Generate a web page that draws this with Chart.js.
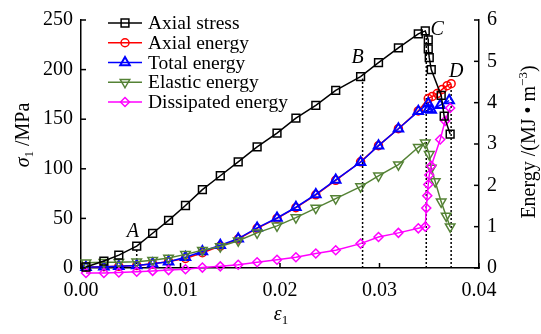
<!DOCTYPE html>
<html><head><meta charset="utf-8">
<script src="https://cdn.jsdelivr.net/npm/chart.js@4/dist/chart.umd.min.js"></script>
<style>html,body{margin:0;padding:0;background:#fff}#wrap{width:541px;height:334px}</style>
</head><body><div id="wrap"><canvas id="c" width="541" height="334"></canvas></div>
<script>
// ---- data ----
const seriesNames = ['Axial stress','Axial energy','Total energy','Elastic energy','Dissipated energy'];
const strainPre = [0.0005,0.0023,0.0038,0.0056,0.0072,0.0088,0.0105,0.0122,0.0140,0.0158,0.0177,0.0197,0.0216,0.0236,0.0256,0.0281,0.0299,0.0319,0.0339];
const stressPre = [1,7,13,22,35,48,63,79,93,107,122,136,151,164,179,193,207,222,236];
const strainStressPost = [0.0346,0.0349,0.0349,0.0350,0.0352,0.0362,0.0365,0.0371];
const stressPost = [239,230,221,212,200,174,153,135];
const axialEnergyPre = [0.02,0.03,0.04,0.06,0.10,0.16,0.23,0.37,0.53,0.70,0.96,1.20,1.46,1.77,2.12,2.57,2.96,3.37,3.80];
const strainAxialPost = [0.0349,0.0353,0.0358,0.0363,0.0368,0.0372];
const axialEnergyPost = [4.10,4.15,4.22,4.32,4.41,4.46];
const totalEnergyPre = [0.02,0.03,0.04,0.06,0.10,0.15,0.26,0.40,0.55,0.71,0.97,1.21,1.47,1.78,2.13,2.56,2.96,3.37,3.79];
const strainTotalPost = [0.0349,0.0349,0.0352,0.0361,0.0370];
const totalEnergyPost = [3.98,3.84,3.82,3.94,4.05];
const elasticEnergyPre = [0.13,0.14,0.14,0.15,0.19,0.24,0.33,0.43,0.52,0.66,0.85,1.02,1.22,1.45,1.68,1.97,2.23,2.50,2.92];
const strainElasticPost = [0.0346,0.0350,0.0352,0.0356,0.0362,0.0367,0.0371];
const elasticEnergyPost = [3.03,2.75,2.42,2.09,1.60,1.26,1.00];
const dissipatedEnergyPre = [-0.12,-0.12,-0.11,-0.09,-0.07,-0.05,-0.03,0.01,0.04,0.08,0.14,0.20,0.26,0.35,0.43,0.59,0.75,0.85,0.96];
const strainDissipatedPost = [0.0346,0.0347,0.0348,0.0349,0.0350,0.0352,0.0361,0.0366,0.0371];
const dissipatedEnergyPost = [1.00,1.45,1.75,2.02,2.25,2.47,3.11,3.56,3.87];
// characteristic points A-D
const markLabels = ['A','B','C','D'];
const markStrain = [0.0056,0.0283,0.0347,0.0372];
const markStressTop = [20,191,237,185];
const labelStrain = [0.0052,0.0278,0.0358,0.0377];
const labelStress = [37,212,240,198];
// ticks
const xTicks = [0,0.01,0.02,0.03,0.04];
const yTicks = [0,50,100,150,200,250];
const y1Ticks = [0,1,2,3,4,5,6];

// ---- build ----
const FAM = "'Liberation Serif','Times New Roman',serif";
function pts(xa, ya){ return xa.map((x,i)=>({x:x,y:ya[i]})); }
const cols = ['#000000','#ff0000','#0000ff','#548235','#ff00ff'];
const styles = [
 {ps:'rect', r:5.5, rot:0, bw:1.5},
 {ps:'circle', r:4, rot:0, bw:1.5},
 {ps:'triangle', r:5.5, rot:0, bw:2},
 {ps:'triangle', r:5.5, rot:180, bw:1.5},
 {ps:'rectRot', r:4.5, rot:0, bw:1.5}
];
const dataSets = [
 pts(strainPre.concat(strainStressPost), stressPre.concat(stressPost)),
 pts(strainPre.concat(strainAxialPost), axialEnergyPre.concat(axialEnergyPost)),
 pts(strainPre.concat(strainTotalPost), totalEnergyPre.concat(totalEnergyPost)),
 pts(strainPre.concat(strainElasticPost), elasticEnergyPre.concat(elasticEnergyPost)),
 pts(strainPre.concat(strainDissipatedPost), dissipatedEnergyPre.concat(dissipatedEnergyPost))
];
const orders = [1,5,4,3,2];
const datasets = dataSets.map((d,i)=>({
 label: seriesNames[i], data: d, yAxisID: i===0?'y':'y1',
 borderColor: cols[i], backgroundColor:'rgba(0,0,0,0)', borderWidth:1.5,
 pointStyle: styles[i].ps, pointRadius: styles[i].r, pointRotation: styles[i].rot,
 pointBorderWidth: styles[i].bw, pointBorderColor: cols[i], pointBackgroundColor:'rgba(255,255,255,0)',
 tension:0, clip:false, order: orders[i]
}));
markStrain.forEach((s,i)=>{
 datasets.push({label:'mark'+markLabels[i], data:[{x:s,y:0},{x:s,y:markStressTop[i]}], yAxisID:'y',
  borderColor:'#000', borderWidth:1.5, borderDash:[2,2], pointRadius:0, order:20, clip:false});
});

function drawMarker(ctx, st, col, x, y){
 ctx.save(); ctx.strokeStyle=col; ctx.lineWidth=st.bw; ctx.beginPath();
 const r=st.r;
 if(st.ps==='rect'){ const s=r*Math.SQRT1_2; ctx.rect(x-s,y-s,2*s,2*s); }
 else if(st.ps==='circle'){ ctx.arc(x,y,r,0,Math.PI*2); }
 else if(st.ps==='triangle'){
  const k = st.rot===180?-1:1;
  ctx.moveTo(x, y - k*r); ctx.lineTo(x + r*0.866, y + k*r*0.5); ctx.lineTo(x - r*0.866, y + k*r*0.5); ctx.closePath();
 } else if(st.ps==='rectRot'){ ctx.moveTo(x-r,y); ctx.lineTo(x,y-r); ctx.lineTo(x+r,y); ctx.lineTo(x,y+r); ctx.closePath(); }
 ctx.stroke(); ctx.restore();
}
function drawRuns(ctx, runs, cx, cy, rot, size){
 ctx.save(); ctx.translate(cx,cy); ctx.rotate(rot);
 const fonts = runs.map(r=>(r.it?'italic ':'')+((r.sub||r.sup)?size*0.65:size)+'px '+FAM);
 let w=0; const ws=runs.map((r,i)=>{ctx.font=fonts[i]; const m=ctx.measureText(r.t).width; w+=m; return m;});
 let x=-w/2; ctx.fillStyle='#000'; ctx.textBaseline='alphabetic'; ctx.textAlign='left';
 runs.forEach((r,i)=>{ ctx.font=fonts[i]; let dy=size*0.35; if(r.sub) dy+=size*0.22; if(r.sup) dy-=size*0.42; ctx.fillText(r.t,x,dy); x+=ws[i]; });
 ctx.restore();
}
const decor = {
 id:'decor',
 afterDraw(chart){
  const ctx=chart.ctx, a=chart.chartArea, sx=chart.scales.x, sy=chart.scales.y, sy1=chart.scales.y1;
  ctx.save(); ctx.strokeStyle='#000'; ctx.lineWidth=1.5; const L=5;
  xTicks.forEach(v=>{const p=sx.getPixelForValue(v); ctx.beginPath(); ctx.moveTo(p,a.bottom); ctx.lineTo(p,a.bottom-L); ctx.stroke();});
  yTicks.forEach(v=>{const p=sy.getPixelForValue(v); ctx.beginPath(); ctx.moveTo(a.left,p); ctx.lineTo(a.left+L,p); ctx.stroke();});
  y1Ticks.forEach(v=>{const p=sy1.getPixelForValue(v); ctx.beginPath(); ctx.moveTo(a.right,p); ctx.lineTo(a.right-L,p); ctx.stroke();});
  ctx.restore();
  // point labels
  ctx.save(); ctx.font='italic 20px '+FAM; ctx.fillStyle='#000'; ctx.textAlign='center'; ctx.textBaseline='middle';
  markLabels.forEach((t,i)=>ctx.fillText(t, sx.getPixelForValue(labelStrain[i]), sy.getPixelForValue(labelStress[i])));
  ctx.restore();
  // legend
  ctx.save();
  seriesNames.forEach((n,i)=>{
   const y=23+19.75*i;
   ctx.strokeStyle=cols[i]; ctx.lineWidth=1.5; ctx.beginPath(); ctx.moveTo(108,y); ctx.lineTo(142,y); ctx.stroke();
   drawMarker(ctx, styles[i], cols[i], 125, y);
   ctx.font='19.5px '+FAM; ctx.fillStyle='#000'; ctx.textAlign='left'; ctx.textBaseline='middle';
   ctx.fillText(n,148,y+1);
  });
  ctx.restore();
  // axis titles
  drawRuns(ctx,[{t:'σ',it:true},{t:'1',sub:true},{t:' /MPa'}], 22, 135, -Math.PI/2, 20);
  drawRuns(ctx,[{t:'Energy /(MJ • m'},{t:'−3',sup:true},{t:')'}], 528, 142, -Math.PI/2, 20);
  drawRuns(ctx,[{t:'ε',it:true},{t:'1',sub:true}], 281, 313, 0, 20);
 }
};
const tickFont = {family:FAM, size:20};
new Chart(document.getElementById('c'), {
 type:'line',
 data:{datasets:datasets},
 options:{
  responsive:false, animation:false, devicePixelRatio:1,
  layout:{padding:{top:15,left:0,right:0,bottom:0}},
  plugins:{legend:{display:false}, tooltip:{enabled:false}},
  scales:{
   x:{type:'linear', min:0, max:0.04, afterFit(s){s.height=66;},
      afterBuildTicks(s){s.ticks=xTicks.map(v=>({value:v}));},
      ticks:{callback:v=>v.toFixed(2), font:tickFont, color:'#000', padding:11, maxRotation:0},
      grid:{display:true, drawOnChartArea:false, drawTicks:false}, border:{display:true,color:'#000',width:1.5}},
   y:{type:'linear', position:'left', min:0, max:250, afterFit(s){s.width=81;},
      afterBuildTicks(s){s.ticks=yTicks.map(v=>({value:v}));},
      ticks:{font:tickFont, color:'#000', padding:8},
      grid:{display:true, drawOnChartArea:false, drawTicks:false}, border:{display:true,color:'#000',width:1.5}},
   y1:{type:'linear', position:'right', min:0, max:6, afterFit(s){s.width=62;},
      afterBuildTicks(s){s.ticks=y1Ticks.map(v=>({value:v}));},
      ticks:{font:tickFont, color:'#000', padding:8},
      grid:{display:true, drawOnChartArea:false, drawTicks:false}, border:{display:true,color:'#000',width:1.5}}
  }
 },
 plugins:[decor]
});
</script></body></html>
